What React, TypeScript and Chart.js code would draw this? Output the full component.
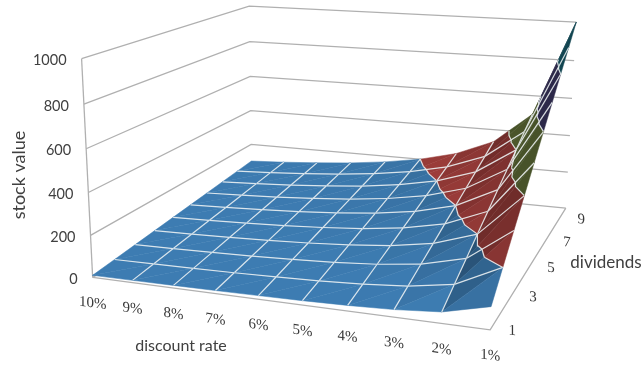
import { useEffect, useRef } from "react";
import { Chart, registerables } from "chart.js";

Chart.register(...registerables);

// Stock value = dividends / discount rate, one row per dividend level.
const discountRates = ["10%", "9%", "8%", "7%", "6%", "5%", "4%", "3%", "2%", "1%"];
const dividendTicks = ["1", "", "3", "", "5", "", "7", "", "9", ""];
const valueTicks = [0, 200, 400, 600, 800, 1000];

const dividend1 = [10, 11.1, 12.5, 14.3, 16.7, 20, 25, 33.3, 50, 100];
const dividend2 = [20, 22.2, 25, 28.6, 33.3, 40, 50, 66.7, 100, 200];
const dividend3 = [30, 33.3, 37.5, 42.9, 50, 60, 75, 100, 150, 300];
const dividend4 = [40, 44.4, 50, 57.1, 66.7, 80, 100, 133.3, 200, 400];
const dividend5 = [50, 55.6, 62.5, 71.4, 83.3, 100, 125, 166.7, 250, 500];
const dividend6 = [60, 66.7, 75, 85.7, 100, 120, 150, 200, 300, 600];
const dividend7 = [70, 77.8, 87.5, 100, 116.7, 140, 175, 233.3, 350, 700];
const dividend8 = [80, 88.9, 100, 114.3, 133.3, 160, 200, 266.7, 400, 800];
const dividend9 = [90, 100, 112.5, 128.6, 150, 180, 225, 300, 450, 900];
const dividend10 = [100, 111.1, 125, 142.9, 166.7, 200, 250, 333.3, 500, 1000];
const surface = [dividend1, dividend2, dividend3, dividend4, dividend5, dividend6, dividend7, dividend8, dividend9, dividend10];

const bandColors = [[61, 124, 178], [170, 66, 63], [108, 124, 62], [66, 60, 110], [28, 104, 122]];
const VALUE_MAX = 1000;
const BAND = 200;

const WIDTH = 644;
const HEIGHT = 367;

// Camera calibration: box points (rate, dividend, value, all 0..1) and where they sit on the canvas.
const cameraAnchors = [
  [0, 0, 0, 93, 277],
  [0, 0, 1, 81, 59],
  [1, 0, 0, 490, 330],
  [1, 1, 0, 566, 208],
  [1, 1, 1, 576, 22],
  [0, 1, 1, 250, 6],
  [0, 1, 0, 251, 178],
  [1, 0, 0.1, 492, 307],
  [1, 1 / 9, 0.2, 502, 268],
  [8 / 9, 0, 0.05, 442, 311],
];

function solveLinear(A: number[][], b: number[]) {
  const n = b.length;
  const M = A.map((r, i) => [...r, b[i]]);
  for (let c = 0; c < n; c++) {
    let p = c;
    for (let r = c + 1; r < n; r++) if (Math.abs(M[r][c]) > Math.abs(M[p][c])) p = r;
    [M[c], M[p]] = [M[p], M[c]];
    for (let r = 0; r < n; r++) {
      if (r === c) continue;
      const f = M[r][c] / M[c][c];
      for (let k = c; k <= n; k++) M[r][k] -= f * M[c][k];
    }
  }
  return M.map((r, i) => r[n] / r[i]);
}

function calibrate() {
  const rows: number[][] = [];
  const rhs: number[] = [];
  const S = 500;
  for (const [u, v, w, px, py] of cameraAnchors) {
    const x = px / S;
    const y = py / S;
    rows.push([u, v, w, 1, 0, 0, 0, 0, -x * u, -x * v, -x * w]);
    rhs.push(x);
    rows.push([0, 0, 0, 0, u, v, w, 1, -y * u, -y * v, -y * w]);
    rhs.push(y);
  }
  const N = 11;
  const AtA = Array.from({ length: N }, (_, i) =>
    Array.from({ length: N }, (_, j) => rows.reduce((s, r) => s + r[i] * r[j], 0)),
  );
  const Atb = Array.from({ length: N }, (_, i) => rows.reduce((s, r, k) => s + r[i] * rhs[k], 0));
  const m = solveLinear(AtA, Atb);
  return (u: number, v: number, w: number) => {
    const d = m[8] * u + m[9] * v + m[10] * w + 1;
    return {
      x: (S * (m[0] * u + m[1] * v + m[2] * w + m[3])) / d,
      y: (S * (m[4] * u + m[5] * v + m[6] * w + m[7])) / d,
    };
  };
}

const project = calibrate();

type Vertex = { u: number; v: number; z: number };

const vertexAt = (i: number, j: number): Vertex => ({
  u: i / (discountRates.length - 1),
  v: j / (surface.length - 1),
  z: surface[j][i],
});

const toCanvas = (p: Vertex) => project(p.u, p.v, p.z / VALUE_MAX);

const lerp = (a: Vertex, b: Vertex, level: number): Vertex => {
  const t = (level - a.z) / (b.z - a.z);
  return { u: a.u + t * (b.u - a.u), v: a.v + t * (b.v - a.v), z: level };
};

function clipPolygon(poly: Vertex[], level: number, keepAbove: boolean) {
  const out: Vertex[] = [];
  const inside = (p: Vertex) => (keepAbove ? p.z >= level : p.z <= level);
  poly.forEach((a, k) => {
    const b = poly[(k + 1) % poly.length];
    if (inside(a)) out.push(a);
    if (inside(a) !== inside(b)) out.push(lerp(a, b, level));
  });
  return out;
}

// Lighting from the facet's slopes along rate and dividend.
function facetShade(a: Vertex, b: Vertex, c: Vertex) {
  const e1 = [b.u - a.u, b.v - a.v, (b.z - a.z) / VALUE_MAX];
  const e2 = [c.u - a.u, c.v - a.v, (c.z - a.z) / VALUE_MAX];
  const nx = e1[1] * e2[2] - e1[2] * e2[1];
  const ny = e1[2] * e2[0] - e1[0] * e2[2];
  const nz = e1[0] * e2[1] - e1[1] * e2[0];
  const su = -nx / nz;
  const sv = -ny / nz;
  const lit = (1 - su * 0.62 + sv * 0.42) / Math.hypot(1, su, sv);
  return Math.min(1, Math.max(0.66, 0.6 + 0.4 * Math.max(0, lit)));
}

const rgb = (c: number[], k: number) => `rgb(${c.map((x) => Math.round(x * k)).join(",")})`;

function facetDatasets(tri: Vertex[]) {
  const shade = facetShade(tri[0], tri[1], tri[2]);
  const sets: any[] = [];
  bandColors.forEach((color, band) => {
    let poly = clipPolygon(tri, band * BAND, true);
    if (poly.length) poly = clipPolygon(poly, (band + 1) * BAND, false);
    if (poly.length < 3) return;
    const pts = poly.map(toCanvas);
    pts.push(pts[0]);
    const c = rgb(color, shade);
    sets.push({ data: pts, showLine: true, fill: "shape", backgroundColor: c, borderColor: c, borderWidth: 0.5, pointRadius: 0, clip: false });
  });
  return sets;
}

function contourDatasets(tri: Vertex[]) {
  const sets: any[] = [];
  for (let level = BAND; level < VALUE_MAX; level += BAND) {
    const hits: Vertex[] = [];
    tri.forEach((a, k) => {
      const b = tri[(k + 1) % 3];
      if (a.z < level !== b.z < level) hits.push(lerp(a, b, level));
    });
    if (hits.length === 2) sets.push(wire(hits.map(toCanvas)));
  }
  return sets;
}

const wire = (pts: { x: number; y: number }[]) => ({
  data: pts,
  showLine: true,
  fill: false,
  borderColor: "rgba(238,242,244,0.88)",
  borderWidth: 1.2,
  pointRadius: 0,
  clip: false,
});

const frame = (pts: { x: number; y: number }[]) => ({
  data: pts,
  showLine: true,
  fill: false,
  borderColor: "#b0b0b0",
  borderWidth: 1.3,
  pointRadius: 0,
  clip: false,
});

function buildDatasets() {
  const sets: any[] = [];
  // Walls and floor first, so the surface paints over them.
  valueTicks.forEach((t) => {
    const w = t / VALUE_MAX;
    sets.push(frame([project(0, 0, w), project(0, 1, w), project(1, 1, w)]));
  });
  sets.push(frame([project(0, 0, 0), project(0, 0, 1)]));
  sets.push(frame([project(0, 0, 0), project(1, 0, 0), project(1, 1, 0)]));

  // Facets from the far corner to the near one.
  for (let j = surface.length - 2; j >= 0; j--) {
    for (let i = 0; i < discountRates.length - 1; i++) {
      const a = vertexAt(i, j);
      const b = vertexAt(i + 1, j);
      const c = vertexAt(i + 1, j + 1);
      const d = vertexAt(i, j + 1);
      const lower = [a, b, c];
      const upper = [a, c, d];
      sets.push(...facetDatasets(upper), ...facetDatasets(lower));
      sets.push(...contourDatasets(upper), ...contourDatasets(lower));
      if (j < surface.length - 2) sets.push(wire([toCanvas(d), toCanvas(c)]));
      if (i > 0) sets.push(wire([toCanvas(a), toCanvas(d)]));
    }
  }
  // Chart.js paints dataset 0 last.
  return sets.reverse();
}

const labelsPlugin = {
  id: "axisText",
  afterDraw(chart: any) {
    const { ctx, scales } = chart;
    const at = (p: { x: number; y: number }) => ({ x: scales.x.getPixelForValue(p.x), y: scales.y.getPixelForValue(p.y) });
    ctx.save();
    ctx.fillStyle = "#404040";
    ctx.textBaseline = "middle";

    ctx.font = "14.5px Lato";
    ctx.textAlign = "right";
    valueTicks.forEach((t) => {
      const p = at(project(0, 0, t / VALUE_MAX));
      ctx.fillText(String(t), p.x - 15, p.y + 2);
    });

    const skewed = (text: string, x: number, y: number) => {
      ctx.save();
      ctx.font = "15px 'Liberation Serif'";
      ctx.textAlign = "center";
      ctx.fillStyle = "#383838";
      ctx.transform(1, 0.14, 0, 1, x, y);
      ctx.fillText(text, 0, 0);
      ctx.restore();
    };
    discountRates.forEach((r, i) => {
      const p = at(project(i / (discountRates.length - 1), 0, 0));
      skewed(r, p.x, p.y + 26);
    });
    dividendTicks.forEach((d, j) => {
      if (!d) return;
      const p = at(project(1, j / (surface.length - 1), 0));
      skewed(d, p.x + 22, p.y + 1);
    });

    ctx.textAlign = "center";
    ctx.font = "16px Lato";
    ctx.fillText("discount rate", 181, 346);
    ctx.font = "17px Lato";
    ctx.fillText("dividends", 606, 263);
    ctx.translate(19, 175);
    ctx.rotate(-Math.PI / 2);
    ctx.font = "18px Lato";
    ctx.fillText("stock value", 0, 0);
    ctx.restore();
  },
};

export default function App() {
  const ref = useRef<HTMLCanvasElement>(null);
  useEffect(() => {
    const chart = new Chart(ref.current!, {
      type: "scatter",
      data: { datasets: buildDatasets() },
      options: {
        animation: false,
        responsive: false,
        layout: { padding: 0 },
        plugins: { legend: { display: false }, tooltip: { enabled: false } },
        scales: {
          x: { type: "linear", min: 0, max: WIDTH, display: false },
          y: { type: "linear", min: 0, max: HEIGHT, reverse: true, display: false },
        },
      },
      plugins: [labelsPlugin],
    } as any);
    return () => chart.destroy();
  }, []);
  return (
    <div style={{ position: "absolute", left: 0, top: 0, width: WIDTH, height: HEIGHT, background: "#fff" }}>
      <canvas ref={ref} width={WIDTH} height={HEIGHT} style={{ display: "block" }} />
    </div>
  );
}
